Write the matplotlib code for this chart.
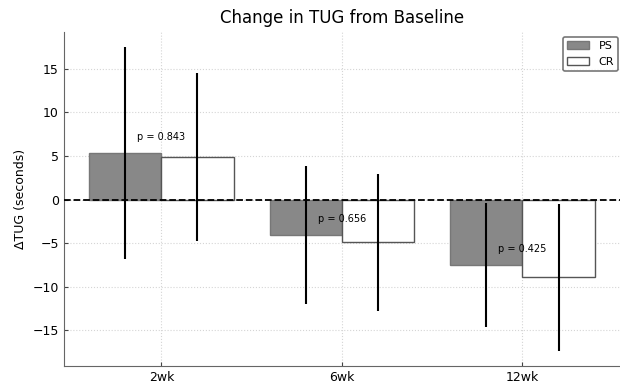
import numpy as np
import matplotlib.pyplot as plt

# change in TUG (s) from baseline, mean and SD per group
weeks = ["2wk", "6wk", "12wk"]
ps_mean = [5.35, -4.08, -7.50]
ps_sd = [12.15, 7.90, 7.10]
cr_mean = [4.86, -4.90, -8.92]
cr_sd = [9.60, 7.88, 8.42]
p_vals = [0.843, 0.656, 0.425]

x = np.arange(len(weeks))
w = 0.4

fig = plt.figure(figsize=(6.2, 3.85), dpi=100)
ax = fig.add_axes([0.103, 0.049, 0.897, 0.869])

ax.bar(x - w/2, ps_mean, w, color='#888888', edgecolor='#777777', linewidth=1, label='PS', zorder=2)
ax.bar(x + w/2, cr_mean, w, color='white', edgecolor='#555555', linewidth=1, label='CR', zorder=2)
ax.errorbar(x - w/2, ps_mean, yerr=ps_sd, fmt='none', ecolor='black', elinewidth=1.5, capsize=0, zorder=3)
ax.errorbar(x + w/2, cr_mean, yerr=cr_sd, fmt='none', ecolor='black', elinewidth=1.5, capsize=0, zorder=3)

ax.axhline(0, color='black', linestyle='--', linewidth=1.3, zorder=4)

for i, p in enumerate(p_vals):
    top = max(ps_mean[i], cr_mean[i])
    ax.text(x[i], top + 1.8, f"p = {p:.3f}", ha='center', va='center', fontsize=7, zorder=5)

ax.set_xticks(x)
ax.set_xticklabels(weeks, fontsize=9)
ax.set_yticks([-15, -10, -5, 0, 5, 10, 15])
ax.tick_params(axis='y', labelsize=9)
ax.tick_params(direction='in', length=3, color='#444444')
ax.set_ylabel('ΔTUG (seconds)', fontsize=9)
ax.set_title('Change in TUG from Baseline', fontsize=12)

ax.grid(True, linestyle=':', color='#d5d5d5', linewidth=0.8, zorder=0)
ax.set_axisbelow(True)
for s in ['top', 'right']:
    ax.spines[s].set_visible(False)
for s in ['left', 'bottom']:
    ax.spines[s].set_color('#666666')

leg = ax.legend(loc='upper right', bbox_to_anchor=(0.997, 0.985), fontsize=8,
                frameon=True, fancybox=True, borderaxespad=0.0)
leg.get_frame().set_edgecolor('#555555')
leg.get_frame().set_linewidth(1.2)

fig.savefig('out.png', dpi=100)
